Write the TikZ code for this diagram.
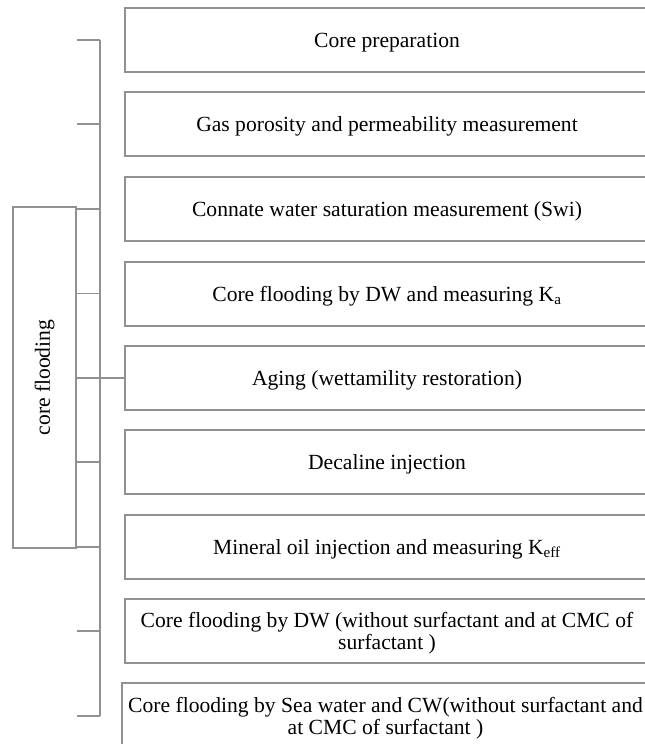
\documentclass[tikz,border=0pt]{standalone}
\usepackage{fontspec}
\setmainfont{Liberation Serif}
\definecolor{linegray}{RGB}{145,145,145}
\begin{document}
\begin{tikzpicture}[x=0.75pt,y=-0.75pt,
  stepbox/.style={draw=linegray, line width=1.5pt, rectangle, minimum width=393pt, minimum height=48pt, inner sep=0pt, text depth=0pt, align=center, font=\fontsize{16.2}{17}\selectfont, text=black},
  bracketline/.style={draw=linegray, line width=1.1pt},
  cfbox/.style={draw=linegray, line width=1.5pt, rectangle, rotate=90, minimum width=255.75pt, minimum height=47.25pt, inner sep=0pt, font=\fontsize{16.2}{17}\selectfont}]
\useasboundingbox (0,0) rectangle (645,744);
\node[stepbox] (b1) at (387,40) {Core preparation};
\node[stepbox] (b2) at (387,124) {Gas porosity and permeability measurement};
\node[stepbox] (b3) at (387,209) {Connate water saturation measurement (Swi)};
\node[stepbox] (b4) at (387,293.5) {Core flooding by DW and measuring K\textsubscript{a}};
\node[stepbox] (b5) at (387,378) {Aging (wettamility restoration)};
\node[stepbox] (b6) at (387,462) {Decaline injection};
\node[stepbox] (b7) at (387,547) {Mineral oil injection and measuring K\textsubscript{eff}};
\node[stepbox] (b8) at (387,631) {Core flooding by DW (without surfactant and at CMC of\\surfactant )};
\node[stepbox, minimum width=395.25pt, minimum height=49.5pt] (b9) at (385.5,716) {Core flooding by Sea water and CW(without surfactant and\\at CMC of surfactant )};
\node[cfbox] (cf) at (44.5,377.5) {core flooding};
\coordinate (spine) at (100,0);
\draw[bracketline] (spine |- b1.west) -- (spine |- b9.west);
\foreach \b in {b1,b2,b3,b4,b5,b6,b7,b8,b9}
  \draw[bracketline] (cf.south |- \b.west) -- (spine |- \b.west);
\draw[bracketline] (spine |- b5.west) -- (b5.west);
\end{tikzpicture}
\end{document}
